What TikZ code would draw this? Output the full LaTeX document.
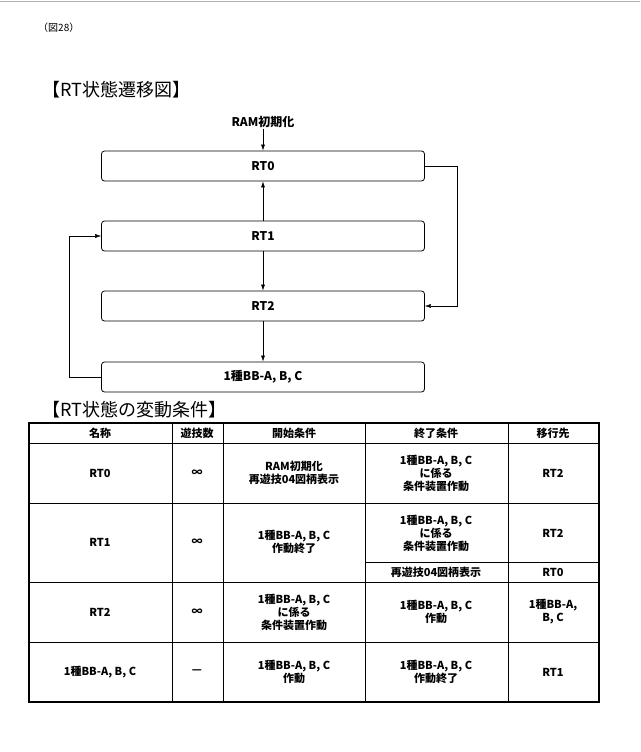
\documentclass[tikz,border=0pt]{standalone}
\usepackage{fontspec}
\setmainfont{Noto Sans CJK JP}
\usetikzlibrary{arrows.meta}
\begin{document}
\begin{tikzpicture}[x=1pt,y=-1pt,
  st/.style={draw,rounded corners=3pt,minimum width=323pt,minimum height=30pt,font=\fontsize{12}{14}\selectfont\bfseries,line width=0.8pt},
  ar/.style={-{Latex[length=6pt,width=4pt]},line width=0.6pt},
  tx/.style={font=\fontsize{11}{13}\selectfont\bfseries,align=center,inner sep=0pt},
  tl/.style={font=\fontsize{18}{20}\selectfont,anchor=west,inner sep=0pt}]
\useasboundingbox (0,0) rectangle (640,752);
\draw[gray!60,line width=0.8pt] (0,1) -- (640,1);
\node[anchor=west,font=\fontsize{10}{12}\selectfont,inner sep=0pt] (fig) at (38,28) {（図28）};
\node[tl] (t1) at (42,90) {【RT状態遷移図】};
\node[font=\fontsize{12}{14}\selectfont\bfseries,inner sep=1pt] (ram) at (263,122) {RAM初期化};
\node[st] (r0) at (263,166) {RT0};
\node[st] (r1) at (263,236) {RT1};
\node[st] (r2) at (263,306) {RT2};
\node[st] (bb) at (263,377) {1種BB-A, B, C};
\draw[ar] (ram) -- (r0);
\draw[ar] (r1) -- (r0);
\draw[ar] (r1) -- (r2);
\draw[ar] (r2) -- (bb);
\draw[ar,line width=0.4pt] (r0.east) -- ++(32,0) |- (r2.east);
\draw[ar,line width=0.4pt] (bb.west) -- ++(-32,0) |- (r1.west);
\node[tl] (t2) at (42,410) {【RT状態の変動条件】};
% table
\draw[line width=1.6pt] (29,423) rectangle (599,702);
\foreach \x in {172,223,365,508} \draw[line width=0.8pt] (\x,423) -- (\x,702);
\foreach \y in {443,503,582,642} \draw[line width=0.8pt] (29,\y) -- (599,\y);
\draw[line width=0.8pt] (365,562) -- (599,562);
\node[tx] (h1) at (100,433) {名称};
\node[tx] (h2) at (197,433) {遊技数};
\node[tx] (h3) at (294,433) {開始条件};
\node[tx] (h4) at (436,433) {終了条件};
\node[tx] (h5) at (553,433) {移行先};
\node[tx] (a1) at (100,473) {RT0};
\node[tx] (a2) at (197,473) {∞};
\node[tx] (a3) at (294,473) {RAM初期化\\再遊技04図柄表示};
\node[tx] (a4) at (436,473) {1種BB-A, B, C\\に係る\\条件装置作動};
\node[tx] (a5) at (553,473) {RT2};
\node[tx] (b1) at (100,542) {RT1};
\node[tx] (b2) at (197,542) {∞};
\node[tx] (b3) at (294,542) {1種BB-A, B, C\\作動終了};
\node[tx] (b4) at (436,533) {1種BB-A, B, C\\に係る\\条件装置作動};
\node[tx] (b5) at (553,533) {RT2};
\node[tx] (b6) at (436,572) {再遊技04図柄表示};
\node[tx] (b7) at (553,572) {RT0};
\node[tx] (c1) at (100,612) {RT2};
\node[tx] (c2) at (197,612) {∞};
\node[tx] (c3) at (294,612) {1種BB-A, B, C\\に係る\\条件装置作動};
\node[tx] (c4) at (436,612) {1種BB-A, B, C\\作動};
\node[tx] (c5) at (553,612) {1種BB-A,\\B, C};
\node[tx] (d1) at (100,672) {1種BB-A, B, C};
\node[tx] (d2) at (197,672) {—};
\node[tx] (d3) at (294,672) {1種BB-A, B, C\\作動};
\node[tx] (d4) at (436,672) {1種BB-A, B, C\\作動終了};
\node[tx] (d5) at (553,672) {RT1};
\end{tikzpicture}
\end{document}
